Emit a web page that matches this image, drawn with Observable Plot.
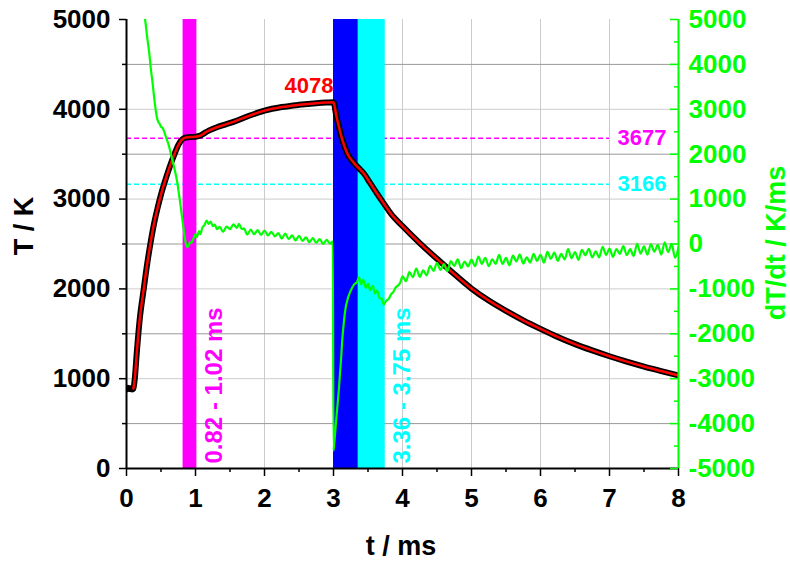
<!DOCTYPE html>
<html><head><meta charset="utf-8">
<script src="https://cdn.jsdelivr.net/npm/d3@7"></script>
<script src="https://cdn.jsdelivr.net/npm/@observablehq/plot@0.6"></script>
<style>body{margin:0;background:#fff}#chart{width:790px;height:563px}</style>
</head><body><div id="chart"></div>
<script>
// Fitted temperature curve (red), t in ms, T in K
const fitTime = [0.1, 0.12, 0.15, 0.19, 0.25, 0.30, 0.35, 0.40, 0.45, 0.50, 0.55, 0.60, 0.65, 0.70, 0.75, 0.80, 0.85, 0.90, 0.95, 1.02, 1.08, 1.14, 1.2, 1.31, 1.43, 1.55, 1.75, 2.0, 2.25, 2.5, 2.75, 2.9, 3.0, 3.04, 3.08, 3.13, 3.2, 3.29, 3.36, 3.44, 3.53, 3.63, 3.73, 3.83, 4.0, 4.25, 4.5, 4.75, 5.0, 5.25, 5.5, 5.75, 6.0, 6.25, 6.5, 6.75, 7.0, 7.25, 7.5, 7.75, 8.0];
const fitT = [890, 1000, 1300, 1650, 2000, 2280, 2520, 2730, 2900, 3050, 3180, 3300, 3410, 3510, 3600, 3660, 3685, 3690, 3692, 3697, 3710, 3740, 3765, 3800, 3830, 3860, 3920, 3985, 4025, 4050, 4068, 4075, 4078, 3930, 3800, 3653, 3508, 3408, 3350, 3285, 3180, 3062, 2950, 2840, 2700, 2510, 2335, 2165, 2004, 1870, 1755, 1650, 1555, 1465, 1385, 1315, 1250, 1190, 1135, 1085, 1036];
// Measured temperature before the rise (black)
const baseTime = [0, 0.02, 0.04, 0.06, 0.08];
const baseT = [880, 900, 885, 895, 880];
// dT/dt (green, right axis), K/ms
const rateTime = [0.27,0.30,0.33,0.35,0.38,0.40,0.42,0.44,0.46,0.48,0.50,0.52,0.54,0.57,0.60,0.62,0.65,0.67,0.69,0.72,0.74,0.76,0.78,0.80,0.82,0.84,0.86,0.88,0.90,0.92,0.94,0.97,1.00,1.02,1.05,1.07,1.10,1.13,1.16,1.19,1.22,1.25,1.28,1.31,1.35,1.40,1.45,1.50,1.55,1.60,1.63,1.67,1.70,1.75,1.80,1.85,1.90,1.95,2.00,2.05,2.10,2.15,2.20,2.25,2.30,2.35,2.40,2.45,2.50,2.55,2.60,2.65,2.70,2.75,2.80,2.85,2.90,2.95,2.99,3.00,3.01,3.04,3.08,3.11,3.13,3.15,3.17,3.21,3.25,3.30,3.34,3.37,3.40,3.43,3.47,3.50,3.53,3.57,3.60,3.63,3.67,3.70,3.73,3.76,3.80,3.83,3.87,3.90,3.94,3.97,4.00,4.05,4.10,4.15,4.20,4.25,4.30,4.35,4.40,4.45,4.50,4.55,4.60,4.65,4.70,4.75,4.80,4.85,4.90,4.95,5.00,5.05,5.10,5.15,5.20,5.25,5.30,5.35,5.40,5.45,5.50,5.55,5.60,5.65,5.70,5.75,5.80,5.85,5.90,5.95,6.00,6.05,6.10,6.15,6.20,6.25,6.30,6.35,6.40,6.45,6.50,6.55,6.60,6.65,6.70,6.75,6.80,6.85,6.90,6.95,7.00,7.05,7.10,7.15,7.20,7.25,7.30,7.35,7.40,7.45,7.50,7.55,7.60,7.65,7.70,7.75,7.80,7.85,7.90,7.95,8.00];
const rateValue = [5000,4600,4250,3940,3560,3270,3020,2825,2720,2680,2610,2590,2530,2390,2260,2155,1960,1840,1710,1500,1330,1118,900,650,420,200,10,-70,-40,40,20,120,220,150,290,220,370,420,520,450,500,400,430,330,380,270,390,330,440,360,450,330,350,210,320,220,310,200,300,190,270,170,240,120,230,110,190,80,180,70,150,40,130,30,110,0,90,10,60,-4600,-4450,-3900,-3190,-2550,-2076,-1750,-1480,-1200,-1036,-900,-850,-740,-900,-800,-980,-880,-1030,-930,-1100,-1040,-1210,-1220,-1350,-1270,-1220,-1130,-1060,-970,-920,-850,-720,-830,-625,-740,-550,-730,-585,-700,-485,-600,-420,-578,-446,-604,-382,-490,-340,-540,-390,-500,-350,-495,-280,-445,-310,-495,-340,-445,-240,-445,-310,-475,-260,-385,-230,-435,-300,-415,-220,-375,-240,-413,-176,-329,-192,-375,-218,-341,-114,-317,-180,-354,-128,-252,-106,-300,-164,-298,-62,-246,-100,-286,-112,-218,-44,-250,-116,-272,2,-214,-50,-237,-4,-171,-18,-235,38,-179,4,-303,-70];
// Shaded time windows
const bandStart = [0.82, 3.0, 3.36];
const bandEnd = [1.02, 3.36, 3.75];
const bandColor = ["#ff00ff", "#0000ff", "#00ffff"];
const bandLabel = ["0.82 - 1.02 ms", "", "3.36 - 3.75 ms"];
// Reference temperature levels
const levelValue = [3677, 3166];
const levelColor = ["#ff00ff", "#00ffff"];
const peakValue = [4078];
// Ticks
const xTicks = [0, 1, 2, 3, 4, 5, 6, 7, 8];
const xMinor = [0.5, 1.5, 2.5, 3.5, 4.5, 5.5, 6.5, 7.5];
const yTicks = [0, 1000, 2000, 3000, 4000, 5000];
const yMinor = [500, 1500, 2500, 3500, 4500];
const rightTicks = [-5000, -4000, -3000, -2000, -1000, 0, 1000, 2000, 3000, 4000, 5000];
const rightMinor = [-4500, -3500, -2500, -1500, -500, 500, 1500, 2500, 3500, 4500];
// Axis titles
const xTitle = "t / ms";
const yTitle = "T / K";
const y2Title = "dT/dt / K/ms";

const GREEN = "#00ff00";
const FONT = "'Liberation Sans', Arial, sans-serif";
const toT = v => (v + 5000) / 2;   // right axis (-5000..5000) onto left scale (0..5000)

const fit = fitTime.map((t, i) => ({t, T: fitT[i]}));
const measured = baseTime.map((t, i) => ({t, T: baseT[i]})).concat(fit);
const rate = rateTime.map((t, i) => ({t, v: rateValue[i]}));
const bands = bandStart.map((s, i) => ({s, e: bandEnd[i], c: bandColor[i], label: bandLabel[i]}));
const levels = levelValue.map((v, i) => ({v, c: levelColor[i]}));

const chart = Plot.plot({
  width: 790, height: 563,
  marginLeft: 126, marginRight: 112, marginTop: 19, marginBottom: 95,
  x: {domain: [0, 8]},
  y: {domain: [0, 5000]},
  color: {type: "identity"},
  style: {fontFamily: FONT, fontWeight: "bold", background: "#fff"},
  marks: [
    Plot.gridX(xTicks.slice(1, 8), {stroke: "#cccccc", strokeOpacity: 1}),
    Plot.gridY(yTicks.slice(1, 5), {stroke: "#cccccc", strokeOpacity: 1}),
    Plot.gridY(yMinor, {stroke: "#999999", strokeOpacity: 1}),
    Plot.ruleY(levels, {y: "v", x1: 0, x2: 7, stroke: "c", strokeWidth: 1.5, strokeDasharray: "5,3"}),
    Plot.rect(bands, {x1: "s", x2: "e", fill: "c"}),
    Plot.line(measured, {x: "t", y: "T", stroke: "black", strokeWidth: 6, curve: "monotone-x", clip: true}),
    Plot.line(fit, {x: "t", y: "T", stroke: "red", strokeWidth: 2.5, curve: "monotone-x", clip: true}),
    Plot.line(rate, {x: "t", y: d => toT(d.v), stroke: GREEN, strokeWidth: 2.2, curve: "monotone-x", clip: true}),
    Plot.text(levels, {x: 7, y: "v", text: d => String(d.v), fill: "c", textAnchor: "start", dx: 8, fontSize: 22}),
    Plot.text(peakValue, {x: 3, y: d => d, text: d => String(d), fill: "red", textAnchor: "end", dy: -16, fontSize: 22}),
    Plot.text(bands.filter(d => d.label), {x: "e", text: "label", fill: "c", frameAnchor: "bottom", dx: 17, dy: -5, rotate: -90, textAnchor: "start", lineAnchor: "middle", fontSize: 24}),
    // axes
    Plot.ruleX([0], {stroke: "black", strokeWidth: 2}),
    Plot.ruleY([0], {stroke: "black", strokeWidth: 2}),
    Plot.ruleX([8], {stroke: GREEN, strokeWidth: 2}),
    Plot.axisX(xTicks, {tickSize: 8, tickPadding: 12, fontSize: 26, tickFormat: d => String(d), label: null, strokeWidth: 1.5}),
    Plot.axisX(xMinor, {tickSize: 4, tickFormat: () => "", label: null, strokeWidth: 1.5}),
    Plot.axisY(yTicks, {tickSize: 7, tickPadding: 9, fontSize: 26, tickFormat: d => String(d), label: null, strokeWidth: 1.5}),
    Plot.axisY(yMinor, {tickSize: 4, tickFormat: () => "", label: null, strokeWidth: 1.5}),
    Plot.axisY(rightTicks.map(toT), {anchor: "right", tickSize: 0, tickPadding: 10, fontSize: 26, fill: GREEN, tickFormat: d => String(d * 2 - 5000), label: null}),
    Plot.tickY(rightTicks.map(toT), {y: d => d, stroke: GREEN, strokeWidth: 1.5, insetLeft: 544}),
    Plot.tickY(rightMinor.map(toT), {y: d => d, stroke: GREEN, strokeWidth: 1.5, insetLeft: 548})
  ]
});
document.getElementById("chart").appendChild(chart);

// Axis titles placed as real SVG text
const svg = d3.select(chart);
const addTitle = (txt, x, y, rot, color) => svg.append("text")
  .attr("transform", `translate(${x},${y}) rotate(${rot})`)
  .attr("text-anchor", "middle").attr("dominant-baseline", "central")
  .attr("font-family", FONT).attr("font-weight", "bold").attr("font-size", 27)
  .attr("fill", color).text(txt);
addTitle(yTitle, 24, 226, -90, "black");
addTitle(y2Title, 776, 243, -90, GREEN);
addTitle(xTitle, 401, 546, 0, "black");
</script>
</body></html>
